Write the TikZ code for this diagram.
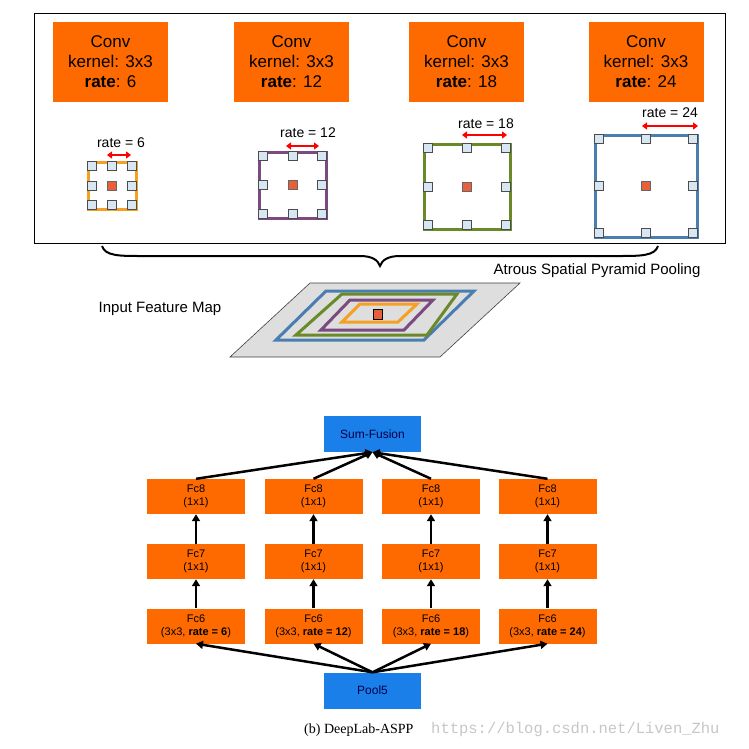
\documentclass[tikz,border=0pt]{standalone}
\usepackage{fontspec}
\setmainfont{Liberation Sans}
\newfontfamily\capfont{Liberation Serif}
\newfontfamily\wmfont{Liberation Mono}
\usetikzlibrary{arrows.meta}
\definecolor{org}{HTML}{FF6A00}
\definecolor{bl}{HTML}{1A7FE8}
\definecolor{gb}{HTML}{4A7EB0}
\definecolor{gg}{HTML}{6A8A2A}
\definecolor{gp}{HTML}{7A4A80}
\definecolor{go}{HTML}{F5A020}
\definecolor{rd}{HTML}{E8603A}
\definecolor{pt}{HTML}{D6E6F2}
\tikzset{
 conv/.style={fill=org,draw=none,minimum width=115,minimum height=80,align=center,font=\fontsize{17}{20}\selectfont,inner sep=0},
 fc/.style={fill=org,draw=none,minimum width=98,minimum height=35,align=center,font=\fontsize{11}{13}\selectfont,inner sep=0},
 bb/.style={fill=bl,draw=none,minimum width=97,minimum height=36,font=\fontsize{12}{14}\selectfont,text=black!70!blue,inner sep=0},
 ar/.style={line width=2.5,-{Triangle[length=7,width=8]}},
 dbl/.style={red,line width=2.5,{Triangle[length=5,width=7]}-{Triangle[length=5,width=7]}},
 lbl/.style={font=\fontsize{14}{16}\selectfont,inner sep=0},
 pt/.style={fill=pt,draw=black!70,line width=0.5},
 ct/.style={fill=rd,draw=black!60,line width=0.5}
}
\newcommand{\grid}[5]{% x1 y1 x2 y2 color
 \draw[#5,line width=3] (#1,#2) rectangle (#3,#4);
 \foreach \u in {0,0.5,1}{\foreach \v in {0,0.5,1}{
  \pgfmathsetmacro\px{#1+4+\u*(#3-#1-8)}\pgfmathsetmacro\py{#2+4+\v*(#4-#2-8)}
  \ifdim\u pt=0.5pt\ifdim\v pt=0.5pt
   \draw[ct] (\px-4.5,\py-4.5) rectangle (\px+4.5,\py+4.5);
  \else\draw[pt] (\px-4.5,\py-4.5) rectangle (\px+4.5,\py+4.5);\fi
  \else\draw[pt] (\px-4.5,\py-4.5) rectangle (\px+4.5,\py+4.5);\fi}}}
\begin{document}
\begin{tikzpicture}[x=1pt,y=-1pt]
\useasboundingbox[fill=white] (0,0) rectangle (748,749);
\draw[line width=1] (34,14) rectangle (725,243);
\node[conv] (c1) at (110.5,62) {Conv\\kernel: 3x3\\\textbf{rate}: 6};
\node[conv] (c2) at (291.5,62) {Conv\\kernel: 3x3\\\textbf{rate}: 12};
\node[conv] (c3) at (466.5,62) {Conv\\kernel: 3x3\\\textbf{rate}: 18};
\node[conv] (c4) at (646,62) {Conv\\kernel: 3x3\\\textbf{rate}: 24};
\grid{88}{162}{136}{209}{go}
\grid{259}{152}{326}{218}{gp}
\grid{424}{144}{510}{229}{gg}
\grid{595}{135}{697}{237}{gb}
\node[lbl] (r1) at (121,143) {rate = 6};
\node[lbl] (r2) at (308,133) {rate = 12};
\node[lbl] (r3) at (486,124) {rate = 18};
\node[lbl] (r4) at (670,113) {rate = 24};
\coordinate (a1l) at (107,155); \coordinate (a1r) at (131,155);
\coordinate (a2l) at (286,146); \coordinate (a2r) at (319,146);
\coordinate (a3l) at (462,135); \coordinate (a3r) at (507,135);
\coordinate (a4l) at (642,126); \coordinate (a4r) at (698,126);
\draw[dbl] (a1l) -- (a1r); \draw[dbl] (a2l) -- (a2r);
\draw[dbl] (a3l) -- (a3r); \draw[dbl] (a4l) -- (a4r);
% brace
\draw[line width=2] (102,246) .. controls (105,256) and (120,256) .. (140,256) -- (360,256) .. controls (372,256) and (378,260) .. (380,266) .. controls (382,260) and (388,256) .. (400,256) -- (620,256) .. controls (640,256) and (655,256) .. (658,246);
\node[lbl,font=\fontsize{15}{17}\selectfont] (asp) at (597,271) {Atrous Spatial Pyramid Pooling};
\node[lbl,font=\fontsize{15}{17}\selectfont] (ifm) at (160,309) {Input Feature Map};
% feature map
\draw[fill=black!13,draw=black!75,line width=0.6] (230,357) -- (310,283) -- (520,283) -- (440,357) -- cycle;
\draw[gb,line width=3] (276,340) -- (326,291) -- (474,291) -- (424,340) -- cycle;
\draw[gg,line width=3] (296,335) -- (342,294) -- (457,294) -- (427,335) -- cycle;
\draw[gp,line width=3] (321,330) -- (350,300) -- (433,300) -- (404,330) -- cycle;
\draw[go,line width=3] (342,322) -- (360,304) -- (417,304) -- (398,322) -- cycle;
\draw[ct,draw=black,line width=0.8] (373,309) rectangle (382,319);
% bottom network
\node[bb] (sum) at (372.5,434) {Sum-Fusion};
\node[bb] (pool) at (372.5,690.5) {Pool5};
\foreach \i/\x/\r in {1/196/6,2/313.5/12,3/431/18,4/547.5/24}{
 \node[fc] (f8\i) at (\x,496.5) {Fc8\\(1x1)};
 \node[fc] (f7\i) at (\x,561.5) {Fc7\\(1x1)};
 \node[fc] (f6\i) at (\x,626) {Fc6\\(3x3, \textbf{rate = \r})};
 \draw[ar] (f7\i) -- (f8\i);
 \draw[ar] (f6\i) -- (f7\i);
 \draw[ar] (f8\i.north) -- (sum.south);
 \draw[ar] (pool.north) -- (f6\i.south);
}
\node[inner sep=0,anchor=west,font=\capfont\fontsize{14}{16}\selectfont] (cap) at (304,730) {(b) DeepLab-ASPP};
\node[inner sep=0,anchor=west,text=black!22,font=\wmfont\fontsize{15.5}{17}\selectfont] (wm) at (431,729) {https://blog.csdn.net/Liven\_Zhu};
\end{tikzpicture}
\end{document}
